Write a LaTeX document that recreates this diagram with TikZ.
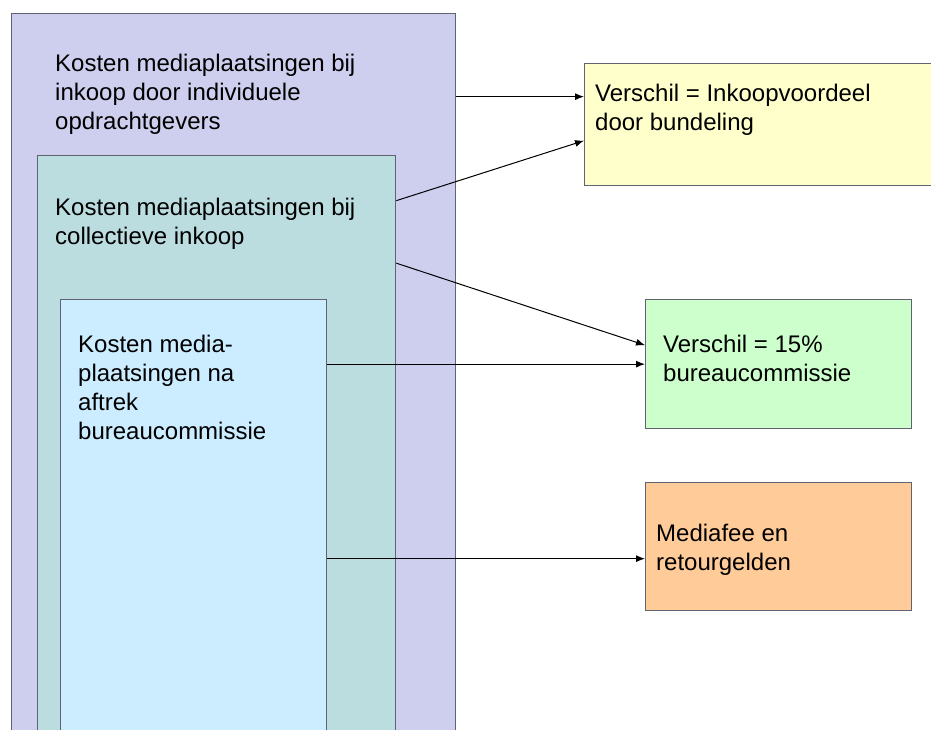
\documentclass[tikz,border=0pt]{standalone}
\usepackage{fontspec}
\setmainfont{Liberation Sans}
\usetikzlibrary{arrows.meta}

\definecolor{paars}{RGB}{206,206,238}
\definecolor{teal}{RGB}{187,221,224}
\definecolor{lichtblauw}{RGB}{204,236,255}
\definecolor{geel}{RGB}{255,255,204}
\definecolor{groen}{RGB}{204,255,204}
\definecolor{oranje}{RGB}{255,204,153}
\definecolor{rand}{RGB}{96,100,112}

\tikzset{
    vak/.style={draw=rand, line width=1.3pt, anchor=north west, inner sep=0pt},
    tekst/.style={anchor=north west, inner sep=0pt, align=left,
        font=\fontsize{24}{29}\selectfont},
    pijl/.style={-{Latex[length=9pt,width=7pt]}, line width=1pt, black}
}

\begin{document}
\begin{tikzpicture}[x=1pt, y=-1pt]
        \useasboundingbox (0,0) rectangle (931,729);

        % Nested boxes (run off the bottom of the page)
        \node[vak, fill=paars, minimum width=444pt, minimum height=740pt] (individueel) at (11,13) {};
        \node[vak, fill=teal, minimum width=358pt, minimum height=600pt] (collectief) at (37,155) {};
        \node[vak, fill=lichtblauw, minimum width=266pt, minimum height=460pt] (aftrek) at (60,299) {};

        \node[tekst] (tindividueel) at (55,54) {Kosten mediaplaatsingen bij\\inkoop door individuele\\opdrachtgevers};
        \node[tekst] (tcollectief) at (55,198) {Kosten mediaplaatsingen bij\\collectieve inkoop};
        \node[tekst] (taftrek) at (78,335) {Kosten media-\\plaatsingen na\\aftrek\\bureaucommissie};

        % Result boxes on the right
        \node[vak, fill=geel, minimum width=360pt, minimum height=122pt] (inkoopvoordeel) at (584,63) {};
        \node[vak, fill=groen, minimum width=266pt, minimum height=129pt] (commissie) at (645,299) {};
        \node[vak, fill=oranje, minimum width=266pt, minimum height=128pt] (mediafee) at (645,482) {};

        \node[tekst] (tinkoopvoordeel) at (595,84) {Verschil = Inkoopvoordeel\\door bundeling};
        \node[tekst] (tcommissie) at (663,335) {Verschil = 15\%\\bureaucommissie};
        \node[tekst] (tmediafee) at (656,524) {Mediafee en\\retourgelden};

        % Arrows
        \draw[pijl] ([yshift=28pt]individueel.east |- inkoopvoordeel.west) -- ([yshift=28pt]inkoopvoordeel.west);
        \draw[pijl] ([yshift=-76pt]collectief.east |- inkoopvoordeel.west) -- ([yshift=-16pt]inkoopvoordeel.west);
        \draw[pijl] ([yshift=101pt]collectief.east |- commissie.west) -- ([yshift=19pt]commissie.west);
        \draw[pijl] (aftrek.east |- commissie.west) -- (commissie.west);
        \draw[pijl] ([yshift=-12pt]aftrek.east |- mediafee.west) -- ([yshift=-12pt]mediafee.west);

    \end{tikzpicture}
\end{document}
